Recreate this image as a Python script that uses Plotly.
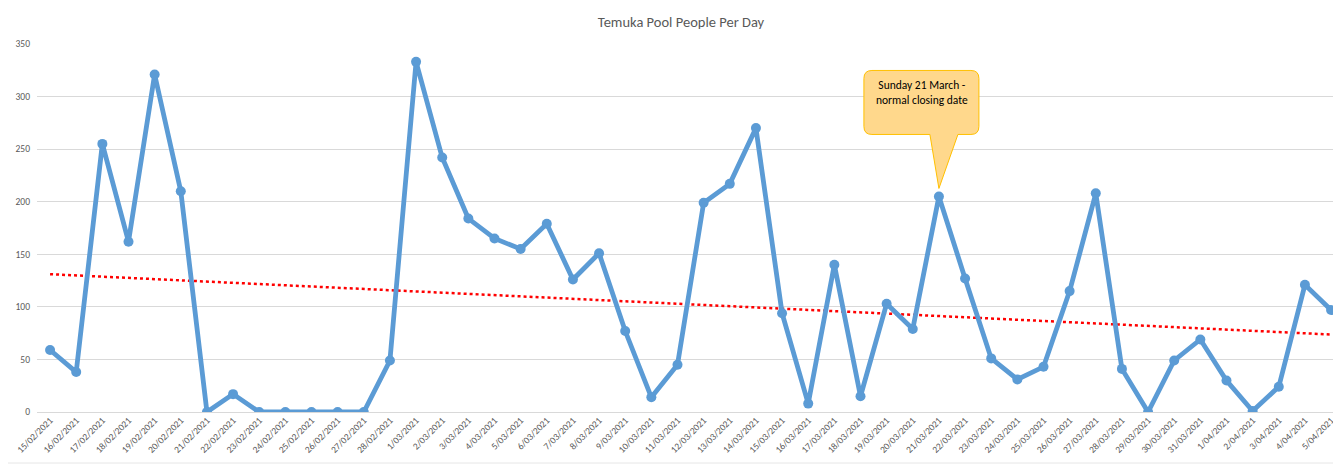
import numpy as np
import plotly.graph_objects as go

dates = [
    "15/02/2021", "16/02/2021", "17/02/2021", "18/02/2021", "19/02/2021",
    "20/02/2021", "21/02/2021", "22/02/2021", "23/02/2021", "24/02/2021",
    "25/02/2021", "26/02/2021", "27/02/2021", "28/02/2021", "1/03/2021",
    "2/03/2021", "3/03/2021", "4/03/2021", "5/03/2021", "6/03/2021",
    "7/03/2021", "8/03/2021", "9/03/2021", "10/03/2021", "11/03/2021",
    "12/03/2021", "13/03/2021", "14/03/2021", "15/03/2021", "16/03/2021",
    "17/03/2021", "18/03/2021", "19/03/2021", "20/03/2021", "21/03/2021",
    "22/03/2021", "23/03/2021", "24/03/2021", "25/03/2021", "26/03/2021",
    "27/03/2021", "28/03/2021", "29/03/2021", "30/03/2021", "31/03/2021",
    "1/04/2021", "2/04/2021", "3/04/2021", "4/04/2021", "5/04/2021",
]
people = [
    59, 38, 255, 162, 321, 210, 0, 17, 0, 0,
    0, 0, 0, 49, 333, 242, 184, 165, 155, 179,
    126, 151, 77, 14, 45, 199, 217, 270, 94, 8,
    140, 15, 103, 79, 205, 127, 51, 31, 43, 115,
    208, 41, 0, 49, 69, 30, 1, 24, 121, 97,
]
y_ticks = [0, 50, 100, 150, 200, 250, 300, 350]
title_text = "Temuka Pool People Per Day"
callout_date = "21/03/2021"
callout_text = "Sunday 21 March -<br>normal closing date"

# Linear trendline (like Excel's linear trendline)
idx = np.arange(len(people))
slope, intercept = np.polyfit(idx, people, 1)
trend = slope * idx + intercept

fig = go.Figure()
fig.add_trace(go.Scatter(
    x=dates, y=trend, mode="lines",
    line=dict(color="#FF0000", width=2.5, dash="dot"),
    hoverinfo="skip", showlegend=False,
))
fig.add_trace(go.Scatter(
    x=dates, y=people, mode="lines+markers",
    line=dict(color="#5B9BD5", width=4.8),
    marker=dict(color="#5B9BD5", size=10),
    showlegend=False,
))

ci = dates.index(callout_date)
cx, cy = dates[ci], people[ci]

callout_path = (
    "M 0,8 L 19,62 L 32,62 Q 40,62 40,70 L 40,118 Q 40,126 32,126 "
    "L -67,126 Q -75,126 -75,118 L -75,70 Q -75,62 -67,62 L -9,62 Z"
)
fig.add_shape(
    type="path", xref="x", yref="y",
    xsizemode="pixel", ysizemode="pixel",
    xanchor=cx, yanchor=cy,
    path=callout_path,
    fillcolor="rgb(255,216,140)",
    line=dict(color="rgb(255,192,0)", width=1),
    layer="above",
)
fig.add_annotation(
    x=cx, y=cy, xref="x", yref="y",
    text=callout_text, showarrow=False,
    xshift=-17, yshift=104,
    font=dict(family="Carlito, Lato, sans-serif", size=11.5, color="#000000"),
    align="center",
)

# faint outer chart border
fig.add_shape(
    type="rect", xref="paper", yref="paper",
    x0=-0.023, x1=1.01, y0=-0.1386, y1=1.103,
    line=dict(color="#E6E6E6", width=1), fillcolor="rgba(0,0,0,0)",
    layer="below",
)

W, H = 1333, 456  # page has an 8px body margin
fig.update_layout(
    width=W, height=H,
    margin=dict(l=29, r=0, t=36, b=52),
    paper_bgcolor="white", plot_bgcolor="white",
    title=dict(
        text=title_text, x=673 / W, xanchor="center",
        y=1 - 14 / H, yanchor="middle", yref="container",
        font=dict(family="Carlito, Lato, sans-serif", size=14.5, color="#595959"),
    ),
    font=dict(family="Carlito, Lato, sans-serif"),
)
fig.update_xaxes(
    type="category", range=[-0.5, 49.38],
    tickangle=-45, showgrid=False, showline=False, zeroline=False,
    ticks="", tickfont=dict(size=9.5, color="#595959"),
)
fig.update_yaxes(
    range=[0, 350], tickvals=y_ticks,
    showgrid=True, gridcolor="#D9D9D9", gridwidth=1,
    zeroline=True, zerolinecolor="#D9D9D9", zerolinewidth=1,
    showline=False, ticks="", ticklabelstandoff=6,
    tickfont=dict(size=9.5, color="#595959"),
)

fig.write_html("out.html")
